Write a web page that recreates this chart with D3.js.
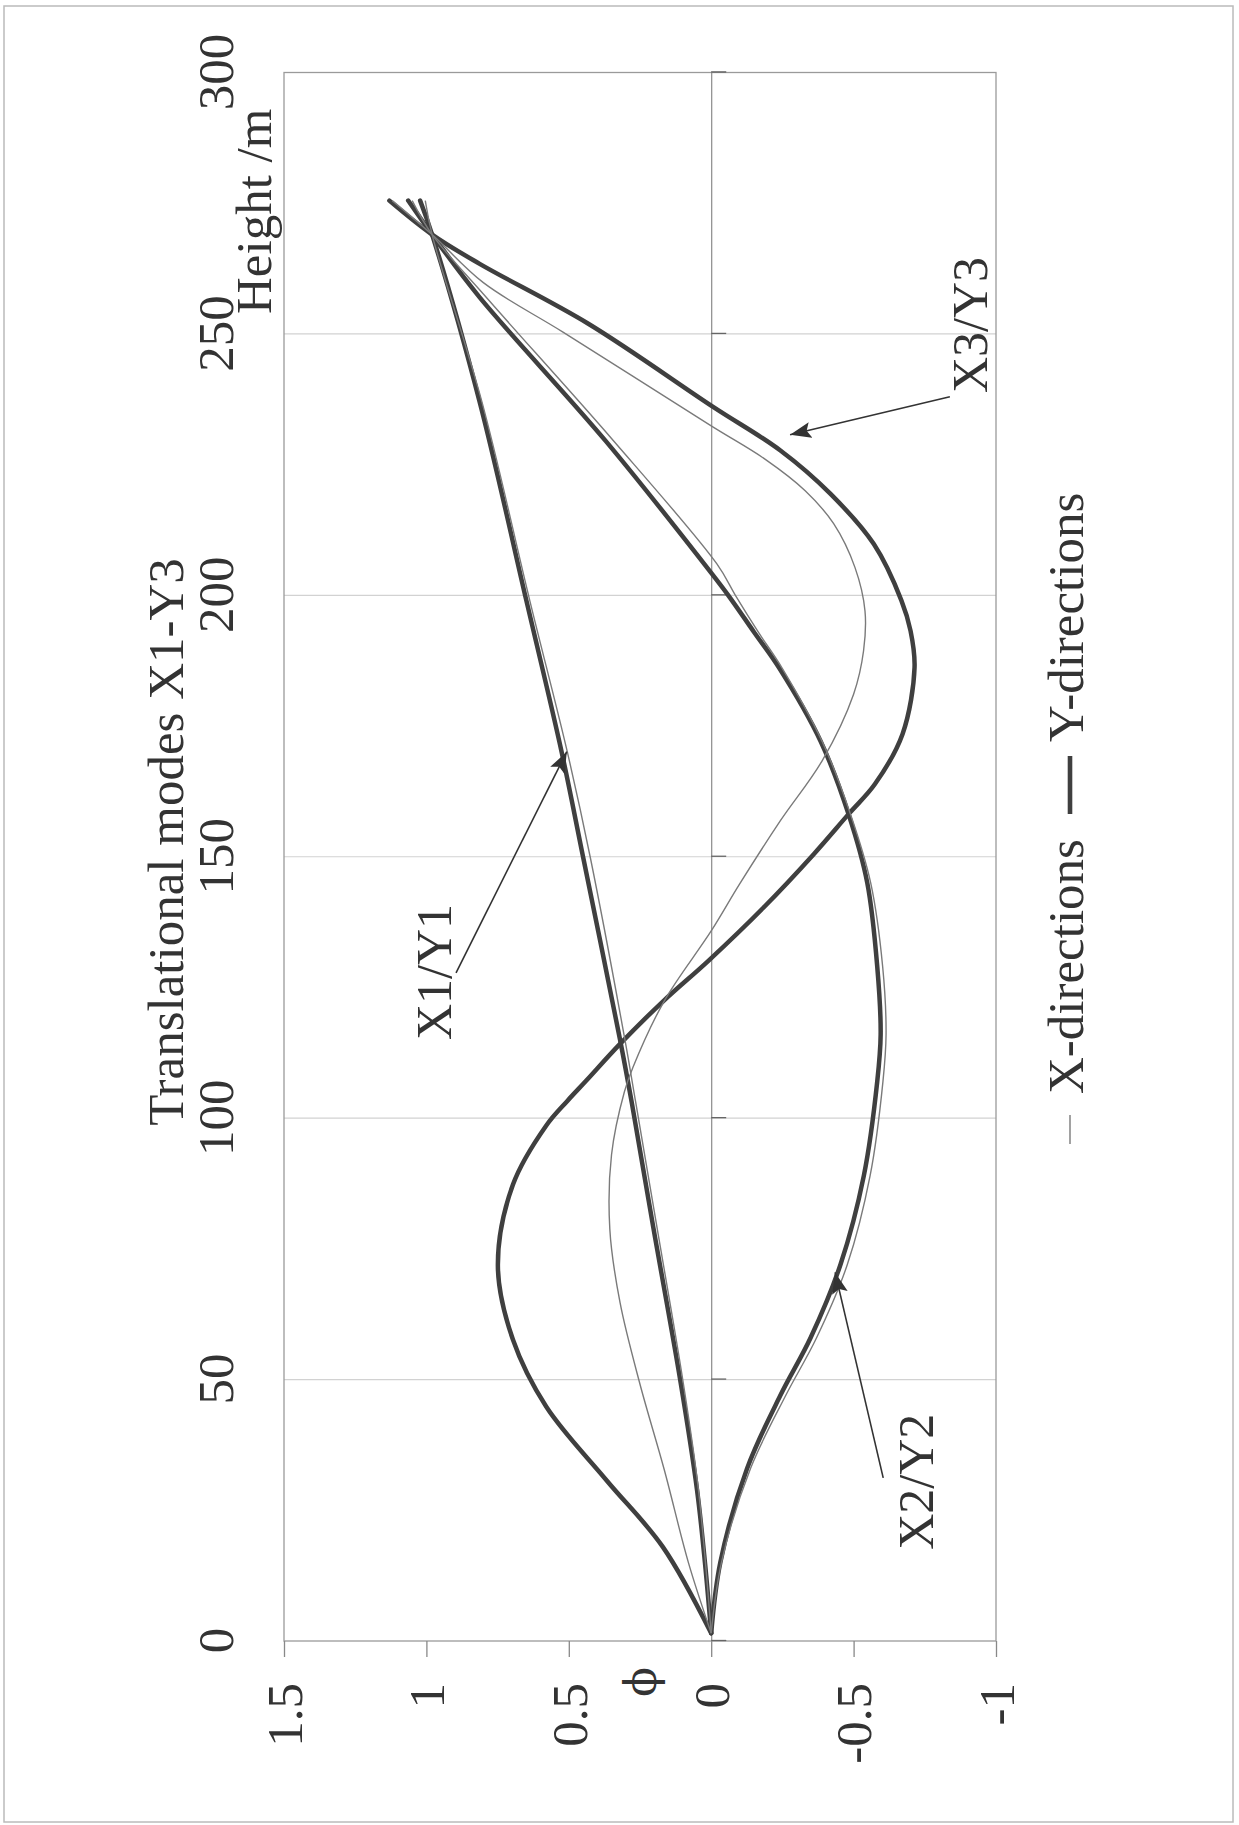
<!DOCTYPE html>
<html><head><meta charset="utf-8">
<script src="https://cdn.jsdelivr.net/npm/d3@7"></script>
<style>body{margin:0;background:#fff} svg{display:block}</style>
</head><body>
<svg id="c" width="1239" height="1825"></svg>
<script>
// ---------- data (height in m, normalised mode value phi) ----------
const heightTicks = [0, 50, 100, 150, 200, 250, 300];
const phiTicks = [1.5, 1, 0.5, 0, -0.5, -1];
const titleText = "Translational modes X1-Y3";
const heightTitle = "Height /m";
const phiTitle = "\u03D5";
const legendLabels = ["X-directions", "Y-directions"];

const modeY1 = [[1.5,0],[15,0.022],[29,0.05],[50,0.109],[79,0.203],[103,0.279],[115,0.32],[150,0.45],[170,0.525],[199,0.649],[237,0.813],[269,0.98],[275.5,1.022]];
const modeX1 = [[1.5,0],[29,0.045],[50,0.1],[79,0.19],[103,0.265],[115,0.303],[150,0.425],[170,0.505],[199,0.637],[237,0.805],[269,0.98],[275.5,1.004]];
const modeY2 = [[1.5,0],[15,-0.032],[33,-0.126],[47,-0.243],[58,-0.349],[72,-0.454],[89,-0.536],[107,-0.583],[116,-0.595],[129,-0.583],[145,-0.548],[158,-0.483],[172,-0.385],[186,-0.24],[193,-0.15],[200,-0.06],[204.3,0],[229.5,0.37],[257,0.813],[269,0.98],[275.5,1.064]];
const modeX2 = [[1.5,0],[15,-0.036],[33,-0.138],[47,-0.262],[58,-0.37],[72,-0.478],[89,-0.558],[107,-0.603],[116,-0.614],[129,-0.602],[145,-0.56],[158,-0.49],[172,-0.39],[186,-0.25],[193,-0.165],[200,-0.085],[206,-0.02],[230,0.35],[257,0.79],[269,0.98],[275.5,1.05]];
const modeY3 = [[1.5,0],[18,0.17],[30.7,0.367],[44.8,0.579],[57.6,0.696],[71.7,0.749],[87.3,0.696],[98.6,0.579],[103.3,0.505],[107.1,0.44],[114.2,0.32],[122.4,0.168],[130.1,0.01],[140.3,-0.184],[150.5,-0.36],[158.2,-0.483],[163.9,-0.575],[173.5,-0.672],[186.2,-0.714],[193.2,-0.70],[199,-0.668],[209.8,-0.571],[219.4,-0.419],[227.7,-0.243],[236,-0.008],[251.9,0.43],[263.4,0.813],[269,0.98],[275.5,1.13]];
const modeX3 = [[1.5,0],[15,0.08],[32.8,0.165],[49.1,0.25],[64.7,0.32],[78.8,0.356],[93,0.35],[105,0.305],[109.7,0.275],[122.4,0.165],[135.8,0],[144.8,-0.10],[156.9,-0.243],[168.4,-0.39],[181.1,-0.50],[189.4,-0.535],[197,-0.54],[205.3,-0.505],[213.7,-0.43],[220,-0.33],[226,-0.19],[232.4,0],[250.3,0.519],[259.8,0.80],[269,0.98],[275.5,1.12]];

// annotations: label start [h, phi], arrow from [h, phi], arrow tip [h, phi]
const annotLabels = ["X3/Y3", "X1/Y1", "X2/Y2"];
const annotText = [[238.7,-0.968],[114.95,0.914],[17.45,-0.779]];
const annotFrom = [[238.0,-0.838],[127.8,0.896],[31.2,-0.604]];
const annotTo = [[230.7,-0.277],[170.1,0.507],[70.5,-0.435]];

// ---------- layout (chart drawn in an unrotated frame, then turned 90deg CCW) ----------
const W = 1825, H = 1239;
const FONT = "'Liberation Serif','Times New Roman',serif";
const TXT = "#333";
const svg = d3.select("#c");

// outer frame
svg.append("rect").attr("x",4).attr("y",6).attr("width",1229).attr("height",1816)
  .attr("fill","none").attr("stroke","#bbb").attr("stroke-width",1.5);

const g = svg.append("g").attr("transform",`translate(0,${W}) rotate(-90)`);

const x = d3.scaleLinear().domain([0,300]).range([184,1752.5]);
const y = d3.scaleLinear().domain([-1,1.5]).range([996,284]);

const defs = svg.append("defs");
defs.append("marker").attr("id","arr").attr("markerUnits","userSpaceOnUse")
  .attr("markerWidth",22).attr("markerHeight",16).attr("refX",21).attr("refY",8)
  .attr("orient","auto")
  .append("path").attr("d","M0,0 L21,8 L0,16 L4,8 z").attr("fill","#333");

// gridlines
g.append("g").selectAll("line").data(heightTicks.filter(d=>d>0&&d<300)).join("line")
  .attr("x1",d=>x(d)).attr("x2",d=>x(d)).attr("y1",y(1.5)).attr("y2",y(-1))
  .attr("stroke","#d2d2d2").attr("stroke-width",1.2);

// plot border
g.append("rect").attr("x",x(0)).attr("y",y(1.5)).attr("width",x(300)-x(0)).attr("height",y(-1)-y(1.5))
  .attr("fill","none").attr("stroke","#9a9a9a").attr("stroke-width",1.3);

// zero axis with ticks (no labels)
const zeroAxis = g.append("g").attr("transform",`translate(0,${y(0)})`)
  .call(d3.axisBottom(x).tickValues(heightTicks).tickSize(15).tickFormat(""));
zeroAxis.select(".domain").attr("stroke","#8a8a8a").attr("stroke-width",1.2);
zeroAxis.selectAll(".tick line").attr("stroke","#666").attr("stroke-width",1.3);

// height labels at top
const topAxis = g.append("g").attr("transform","translate(0,233)")
  .call(d3.axisTop(x).tickValues(heightTicks).tickSize(0).tickPadding(0).tickFormat(d=>String(d)));
topAxis.select(".domain").remove();
topAxis.selectAll("text").attr("font-family",FONT).attr("font-size",51).attr("fill",TXT);

// phi axis on left
const leftAxis = g.append("g").attr("transform",`translate(${x(0)},0)`)
  .call(d3.axisLeft(y).tickValues(phiTicks).tickSize(16).tickPadding(26).tickFormat(d=>String(d)));
leftAxis.select(".domain").remove();
leftAxis.selectAll(".tick line").attr("stroke","#888").attr("stroke-width",1.3);
leftAxis.selectAll("text").attr("font-family",FONT).attr("font-size",51).attr("fill",TXT).attr("dy","0.34em");

// titles
g.append("text").attr("x",983).attr("y",183).attr("text-anchor","middle")
  .attr("font-family",FONT).attr("font-size",51).attr("fill",TXT).text(titleText);
g.append("text").attr("x",1511).attr("y",271).attr("text-anchor","start")
  .attr("font-family",FONT).attr("font-size",51).attr("fill",TXT).text(heightTitle);
g.append("text").attr("x",143).attr("y",y(0.243)).attr("text-anchor","middle").attr("dy","0.32em")
  .attr("font-family","'DejaVu Serif','Liberation Serif',serif").attr("font-size",44).attr("fill",TXT).text(phiTitle);

// curves
const line = d3.line().x(d=>x(d[0])).y(d=>y(d[1])).curve(d3.curveCatmullRom.alpha(0.5));
const thick = [modeY1, modeY2, modeY3];
const thin = [modeX1, modeX2, modeX3];
g.append("g").selectAll("path").data(thick).join("path")
  .attr("d",line).attr("fill","none").attr("stroke","#3f3f3f").attr("stroke-width",4.5)
  .attr("stroke-linejoin","round").attr("stroke-linecap","round");
g.append("g").selectAll("path").data(thin).join("path")
  .attr("d",line).attr("fill","none").attr("stroke","#7a7a7a").attr("stroke-width",1.4)
  .attr("stroke-linejoin","round");

// annotations
const ann = g.append("g");
ann.selectAll("line").data(annotFrom).join("line")
  .attr("x1",d=>x(d[0])).attr("y1",d=>y(d[1]))
  .attr("x2",(d,i)=>x(annotTo[i][0])).attr("y2",(d,i)=>y(annotTo[i][1]))
  .attr("stroke","#333").attr("stroke-width",1.6).attr("marker-end","url(#arr)");
ann.selectAll("text").data(annotText).join("text")
  .attr("x",d=>x(d[0])).attr("y",d=>y(d[1]))
  .attr("font-family",FONT).attr("font-size",50).attr("fill",TXT)
  .text((d,i)=>annotLabels[i]);

// legend
const leg = g.append("g");
leg.append("line").attr("x1",681).attr("x2",710).attr("y1",1070).attr("y2",1070)
  .attr("stroke","#7a7a7a").attr("stroke-width",1.4);
leg.append("text").attr("x",731).attr("y",1083).attr("font-family",FONT).attr("font-size",51)
  .attr("fill",TXT).text(legendLabels[0]);
leg.append("line").attr("x1",1011).attr("x2",1069).attr("y1",1070).attr("y2",1070)
  .attr("stroke","#3f3f3f").attr("stroke-width",4.6);
leg.append("text").attr("x",1083).attr("y",1083).attr("font-family",FONT).attr("font-size",51)
  .attr("fill",TXT).text(legendLabels[1]);
</script>
</body></html>
